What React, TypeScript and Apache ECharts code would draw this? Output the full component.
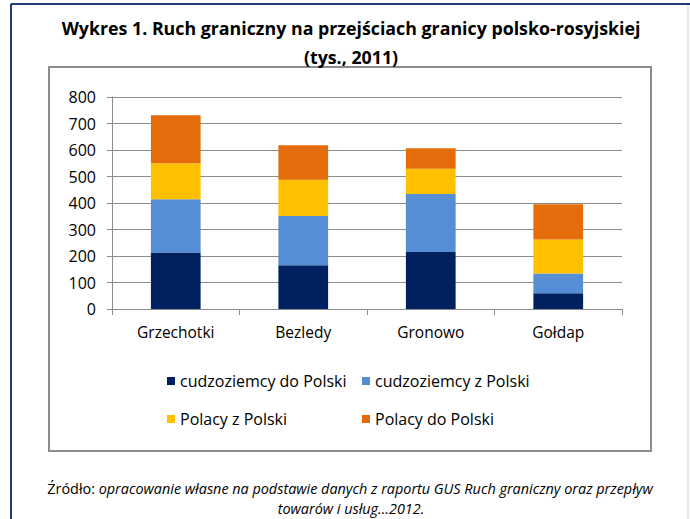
import React, { useEffect, useRef } from "react";
import * as echarts from "echarts";

const categories = ["Grzechotki", "Bezledy", "Gronowo", "Gołdap"];
const seriesNames = [
  "cudzoziemcy do Polski",
  "cudzoziemcy z Polski",
  "Polacy z Polski",
  "Polacy do Polski",
];
const cudzoziemcyDo = [213, 165, 215, 59];
const cudzoziemcyZ = [201, 186, 219, 75];
const polacyZ = [136, 137, 95, 128];
const polacyDo = [181, 130, 78, 133];
const yTicks = [0, 100, 200, 300, 400, 500, 600, 700, 800];

const colors = ["#002060", "#558ED5", "#FFC000", "#E46C0A"];
const FONT = "Open Sans";

export default function App() {
  const ref = useRef<HTMLDivElement>(null);
  useEffect(() => {
    if (!ref.current) return;
    const chart = echarts.init(ref.current, undefined, { renderer: "svg" });
    const values = [cudzoziemcyDo, cudzoziemcyZ, polacyZ, polacyDo];
    const legendPos = [
      { left: 167, top: 373 },
      { left: 362, top: 373 },
      { left: 167, top: 411 },
      { left: 362, top: 411 },
    ];
    chart.setOption({
      animation: false,
      textStyle: { fontFamily: FONT },
      grid: { left: 112, right: 68, top: 97, bottom: 210, containLabel: false },
      legend: seriesNames.map((n, i) => ({
        data: [n],
        left: legendPos[i].left,
        top: legendPos[i].top,
        padding: 0,
        icon: "rect",
        itemWidth: 8,
        itemHeight: 8,
        textStyle: { fontFamily: FONT, fontSize: 16, color: "#000" },
        selectedMode: false,
      })),
      xAxis: {
        type: "category",
        data: categories,
        axisLine: { show: true, lineStyle: { color: "#8c8c8c", width: 1 } },
        axisTick: { show: true, length: 6, lineStyle: { color: "#8c8c8c" } },
        axisLabel: { fontFamily: FONT, fontSize: 15.5, color: "#000", margin: 15 },
      },
      yAxis: {
        type: "value",
        min: yTicks[0],
        max: yTicks[yTicks.length - 1],
        interval: 100,
        axisLine: { show: true, lineStyle: { color: "#8c8c8c", width: 1 } },
        axisTick: { show: true, length: 5, lineStyle: { color: "#8c8c8c" } },
        axisLabel: { fontFamily: FONT, fontSize: 16, color: "#000", margin: 16 },
        splitLine: { show: true, lineStyle: { color: "#8c8c8c", width: 1 } },
      },
      series: seriesNames.map((n, i) => ({
        name: n,
        type: "bar",
        stack: "total",
        data: values[i],
        barCategoryGap: "61%",
        itemStyle: { color: colors[i] },
      })),
      graphic: [
        { type: "line", shape: { x1: 11, y1: 4, x2: 690, y2: 4 }, style: { stroke: "#1F3A7A", lineWidth: 2 } },
        { type: "line", shape: { x1: 11, y1: 4, x2: 11, y2: 519 }, style: { stroke: "#1F3A7A", lineWidth: 2 } },
        { type: "line", shape: { x1: 688, y1: 5, x2: 688, y2: 519 }, style: { stroke: "#d0d0d0", lineWidth: 1 } },
        {
          type: "rect",
          shape: { x: 49, y: 67, width: 602, height: 384 },
          style: { fill: "none", stroke: "#8c8c8c", lineWidth: 2 },
          z: -1,
        },
        {
          type: "text",
          x: 351,
          y: 28,
          style: {
            text: "Wykres 1. Ruch graniczny na przejściach granicy polsko-rosyjskiej",
            font: `bold 17.8px ${FONT}`,
            fill: "#000",
            align: "center",
            verticalAlign: "middle",
          },
        },
        {
          type: "text",
          x: 351,
          y: 57,
          style: {
            text: "(tys., 2011)",
            font: `bold 17.8px ${FONT}`,
            fill: "#000",
            align: "center",
            verticalAlign: "middle",
          },
        },
        {
          type: "text",
          x: 350,
          y: 488,
          style: {
            text: "{n|Źródło: }{i|opracowanie własne na podstawie danych z raportu GUS Ruch graniczny oraz przepływ}",
            align: "center",
            verticalAlign: "middle",
            rich: {
              n: { fontFamily: FONT, fontSize: 14.4, fill: "#000" },
              i: { fontFamily: FONT, fontSize: 14.4, fontStyle: "italic", fill: "#000" },
            },
          },
        },
        {
          type: "text",
          x: 351,
          y: 508,
          style: {
            text: "towarów i usług…2012.",
            font: `italic 14.4px ${FONT}`,
            fill: "#000",
            align: "center",
            verticalAlign: "middle",
          },
        },
      ],
    });
    return () => chart.dispose();
  }, []);
  return <div ref={ref} style={{ width: 690, height: 519, position: "absolute", left: 0, top: 0 }} />;
}
